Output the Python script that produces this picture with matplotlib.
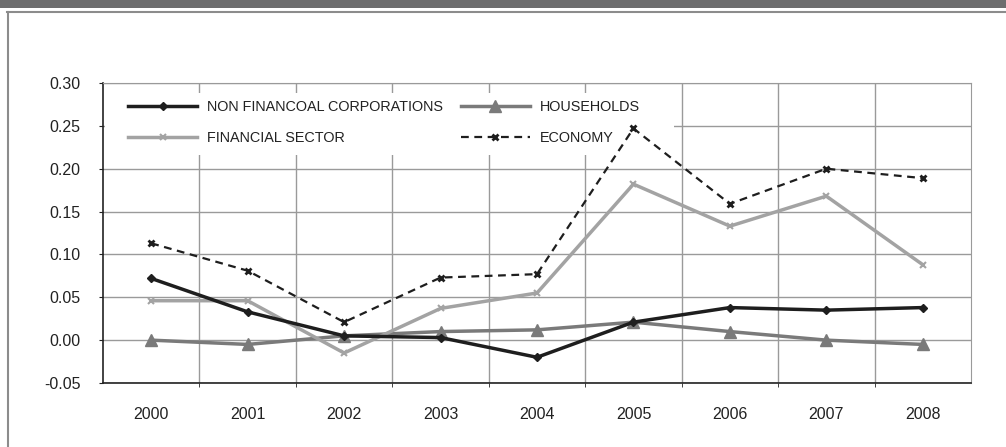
import numpy as np
import matplotlib.pyplot as plt
from matplotlib.lines import Line2D
from matplotlib.patches import Rectangle

plt.rcParams['font.family'] = ['Liberation Sans', 'DejaVu Sans']

years = ['2000', '2001', '2002', '2003', '2004', '2005', '2006', '2007', '2008']
non_fin_corp = [0.072, 0.033, 0.005, 0.003, -0.020, 0.021, 0.038, 0.035, 0.038]
households = [0.000, -0.005, 0.005, 0.010, 0.012, 0.021, 0.010, 0.000, -0.005]
financial = [0.046, 0.046, -0.015, 0.037, 0.055, 0.182, 0.133, 0.168, 0.088]
economy = [0.113, 0.081, 0.021, 0.073, 0.077, 0.247, 0.159, 0.200, 0.189]

W, H = 1006, 447
fig = plt.figure(figsize=(W / 100, H / 100), dpi=100)

# page decoration: dark band on top, thin frame lines
fig.patches.append(Rectangle((0, 1 - 8 / H), 1, 8 / H, transform=fig.transFigure,
                             facecolor='#6d6d6e', edgecolor='none'))
fig.lines.append(Line2D([7 / W, 1], [1 - 11.5 / H, 1 - 11.5 / H], transform=fig.transFigure,
                        color='#8c8c8c', lw=1.5))
fig.lines.append(Line2D([7.5 / W, 7.5 / W], [0, 1 - 11.5 / H], transform=fig.transFigure,
                        color='#8c8c8c', lw=1.5))

ax = fig.add_axes([103 / W, 1 - 383 / H, 868 / W, 300 / H])
x = np.arange(len(years))

l_nfc, = ax.plot(x, non_fin_corp, color='#1e1e1e', lw=2.5, marker='D', ms=4,
                 label='NON FINANCOAL CORPORATIONS', zorder=4)
l_hh, = ax.plot(x, households, color='#7a7a7a', lw=2.5, marker='^', ms=8,
                label='HOUSEHOLDS', zorder=3)
l_fin, = ax.plot(x, financial, color='#a3a3a3', lw=2.5, marker='x', ms=5, mew=1.5,
                 label='FINANCIAL SECTOR', zorder=3)
l_eco, = ax.plot(x, economy, color='#1e1e1e', lw=1.6, ls=(0, (3.5, 2.5)), marker='x', ms=5,
                 mew=2, label='ECONOMY', zorder=5)

ax.set_xlim(-0.5, len(years) - 0.5)
ax.set_ylim(-0.05, 0.30)
yt = np.arange(-0.05, 0.301, 0.05)
ax.set_yticks(yt)
ax.set_yticklabels([f'{v:.2f}' for v in yt])
ax.set_xticks(x)
ax.set_xticklabels(years)
ax.set_xticks(np.arange(0.5, len(years) - 0.5, 1), minor=True)

ax.tick_params(axis='x', which='major', length=0, pad=17, labelsize=11.5, colors='#222222')
ax.tick_params(axis='x', which='minor', length=3, direction='out', color='#222222')
ax.tick_params(axis='y', length=3, direction='out', pad=13, labelsize=11.5, colors='#222222')

ax.grid(axis='y', color='#9a9a9a', lw=1)
ax.grid(axis='x', which='minor', color='#9a9a9a', lw=1)
ax.set_axisbelow(True)

for side in ['top', 'right']:
    ax.spines[side].set_color('#9a9a9a')
for side in ['left', 'bottom']:
    ax.spines[side].set_color('#222222')
    ax.spines[side].set_linewidth(1.2)

# white box behind the legend hides the grid but not the data lines
ax.add_patch(Rectangle((0.002, (383 - 155) / 300), (673 - 104) / 868, 62 / 300,
                       transform=ax.transAxes, facecolor='white', edgecolor='none', zorder=1))

leg = ax.legend([l_nfc, l_fin, l_hh, l_eco],
                ['NON FINANCOAL CORPORATIONS', 'FINANCIAL SECTOR', 'HOUSEHOLDS', 'ECONOMY'],
                ncol=2, loc='upper left', bbox_to_anchor=(0.0288, 0.943), borderaxespad=0,
                borderpad=0, frameon=False, fontsize=10.4, handlelength=4.8,
                handletextpad=0.7, columnspacing=1.2, labelspacing=1.15)
for t in leg.get_texts():
    t.set_color('#222222')

fig.savefig('out.png', dpi=100)
